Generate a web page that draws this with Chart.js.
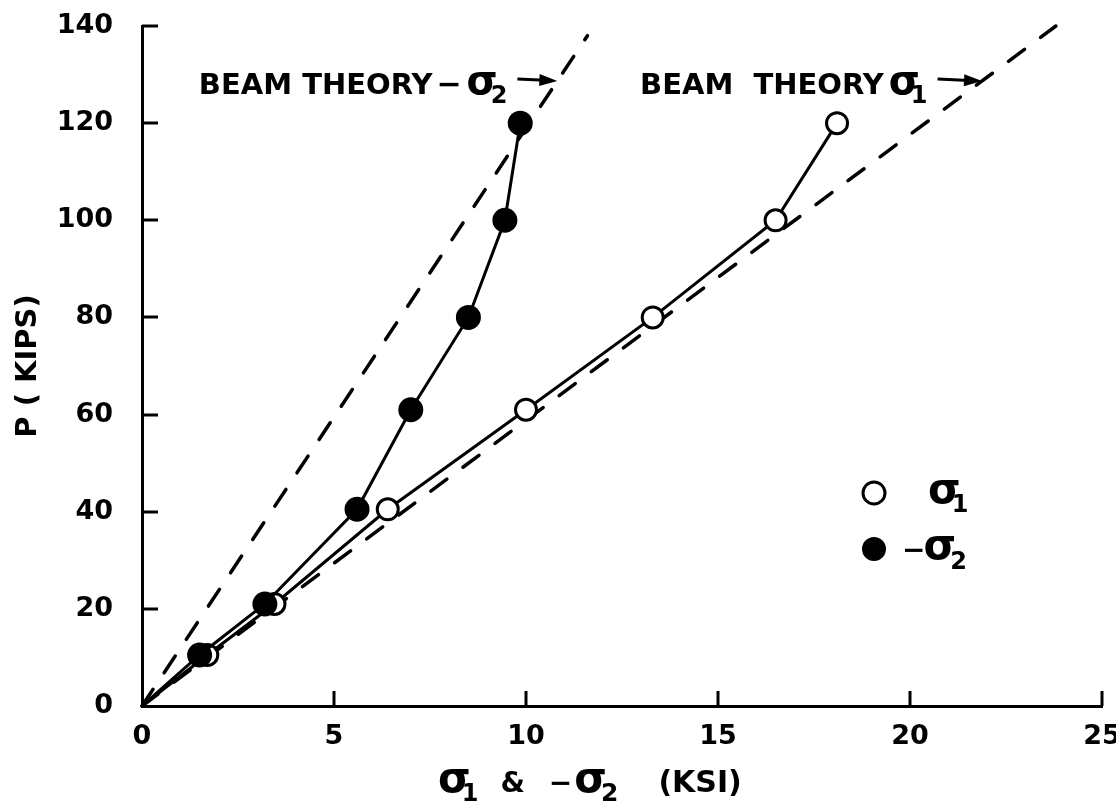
<!DOCTYPE html>
<html>
<head>
<meta charset="utf-8">
<title>Load vs principal stress</title>
<script src="https://cdn.jsdelivr.net/npm/chart.js@4.4.1/dist/chart.umd.min.js"></script>
<style>
  html, body { margin: 0; padding: 0; background: #fff; }
  #wrap { width: 1116px; height: 803px; }
</style>
</head>
<body>
<div id="wrap"><canvas id="chart" width="1116" height="803"></canvas></div>
<script>
// Applied load P (kips) at each reading; the first entry is the unloaded origin
const loadKips = [0, 10.5, 21, 40.5, 61, 80, 100, 120];
// Measured principal stresses (ksi) at those loads
const sigma1 = [0, 1.7, 3.45, 6.4, 10.0, 13.3, 16.5, 18.1];
const negSigma2 = [0, 1.5, 3.2, 5.6, 7.0, 8.5, 9.45, 9.85];
// Beam theory predictions: straight lines from the origin
const beamSigma1X = [0, 23.8];
const beamSigma1P = [0, 140];
const beamSigma2X = [0, 11.6];
const beamSigma2P = [0, 138];
// Axis ticks
const xTicks = [0, 5, 10, 15, 20, 25];
const yTicks = [0, 20, 40, 60, 80, 100, 120, 140];

const INK = '#000';
const FONT = '"DejaVu Sans", "Liberation Sans", sans-serif';

function pairs(xs, ys) { return xs.map((x, i) => ({ x: x, y: ys[i] })); }

// Draws a run of text pieces (sigma with subscripts), returns the end x
function drawRuns(ctx, x, y, runs) {
  let cx = x;
  for (const r of runs) {
    cx += r.dx || 0;
    ctx.font = 'bold ' + r.size + 'px ' + FONT;
    ctx.fillText(r.t, cx, y + (r.dy || 0));
    cx += ctx.measureText(r.t).width;
  }
  return cx;
}

function drawArrow(ctx, x0, y0, x1, y1) {
  const a = Math.atan2(y1 - y0, x1 - x0);
  const head = 18, half = 6;
  const c = Math.cos(a), s = Math.sin(a);
  ctx.lineWidth = 3;
  ctx.beginPath();
  ctx.moveTo(x0, y0);
  ctx.lineTo(x1 - head * 0.7 * c, y1 - head * 0.7 * s);
  ctx.stroke();
  ctx.beginPath();
  ctx.moveTo(x1, y1);
  ctx.lineTo(x1 - head * c + half * s, y1 - head * s - half * c);
  ctx.lineTo(x1 - head * c - half * s, y1 - head * s + half * c);
  ctx.closePath();
  ctx.fill();
}

// Inward tick marks on both axes
const inwardTicks = {
  id: 'inwardTicks',
  afterDraw(chart) {
    const { ctx, chartArea, scales } = chart;
    ctx.save();
    ctx.strokeStyle = INK;
    ctx.lineWidth = 3;
    scales.x.ticks.forEach(t => {
      if (t.value === 0) return;
      const px = Math.round(scales.x.getPixelForValue(t.value));
      ctx.beginPath();
      ctx.moveTo(px, chartArea.bottom);
      ctx.lineTo(px, chartArea.bottom - 15);
      ctx.stroke();
    });
    scales.y.ticks.forEach(t => {
      if (t.value === 0) return;
      const py = Math.round(scales.y.getPixelForValue(t.value));
      ctx.beginPath();
      ctx.moveTo(chartArea.left, py);
      ctx.lineTo(chartArea.left + 16, py);
      ctx.stroke();
    });
    ctx.restore();
  }
};

// Beam theory call-outs, symbol key and the stress axis title
const notes = {
  id: 'notes',
  afterDraw(chart) {
    const { ctx, scales } = chart;
    const xs = scales.x, ys = scales.y;
    ctx.save();
    ctx.fillStyle = INK;
    ctx.strokeStyle = INK;
    ctx.textAlign = 'left';
    ctx.textBaseline = 'alphabetic';

    // call-outs: text, then an arrow whose tip lands on the dashed line
    const callouts = [
      { x: 1.48, y: 126, lineX: beamSigma2X, lineP: beamSigma2P,
        runs: [{ t: 'BEAM THEORY', size: 29 }, { t: '−', size: 30, dx: 4 },
               { t: 'σ', size: 40, dx: 5 }, { t: '2', size: 24, dy: 9, dx: -7 }] },
      { x: 12.97, y: 126, lineX: beamSigma1X, lineP: beamSigma1P,
        runs: [{ t: 'BEAM  THEORY', size: 29 }, { t: 'σ', size: 40, dx: 5 },
               { t: '1', size: 24, dy: 9, dx: -9 }] }
    ];
    callouts.forEach(c => {
      const bx = xs.getPixelForValue(c.x);
      const by = ys.getPixelForValue(c.y);
      const endX = drawRuns(ctx, bx, by, c.runs);
      const ay = by - 15;
      const slope = c.lineP[1] / c.lineX[1];
      const pAtArrow = ys.getValueForPixel(ay + 2);
      const tipX = xs.getPixelForValue(pAtArrow / slope);
      drawArrow(ctx, endX + 10, ay, tipX, ay + 2);
    });

    // symbol key, styled from the measured datasets
    const key = [
      { ds: 1, textX: 928, runs: [{ t: 'σ', size: 42 }, { t: '1', size: 24, dy: 9, dx: -9 }] },
      { ds: 0, textX: 902, runs: [{ t: '−', size: 28 }, { t: 'σ', size: 42, dx: -2 }, { t: '2', size: 24, dy: 10, dx: -6 }] }
    ];
    key.forEach((k, i) => {
      const d = chart.data.datasets[k.ds];
      const cx = 874, cy = 493 + i * 56;
      ctx.beginPath();
      ctx.arc(cx, cy, 11, 0, Math.PI * 2);
      ctx.fillStyle = d.pointBackgroundColor;
      ctx.fill();
      ctx.lineWidth = d.pointBorderWidth;
      ctx.strokeStyle = d.pointBorderColor;
      ctx.stroke();
      ctx.fillStyle = INK;
      drawRuns(ctx, k.textX, cy + 10, k.runs);
    });

    // stress axis title
    const titleRuns = [
      { t: 'σ', size: 42 }, { t: '1', size: 24, dy: 9, dx: -9 },
      { t: '&', size: 28, dx: 22 },
      { t: '−', size: 28, dx: 24 }, { t: 'σ', size: 42, dx: 2 }, { t: '2', size: 25, dy: 9, dx: -6 },
      { t: '(KSI)', size: 30, dx: 40 }
    ];
    drawRuns(ctx, 438, 792, titleRuns);
    ctx.restore();
  }
};

const measuredLine = {
  showLine: true,
  borderColor: INK,
  borderWidth: 3,
  pointBorderColor: INK,
  pointHoverRadius: 11
};

const theoryLine = {
  showLine: true,
  borderColor: INK,
  borderWidth: 3.5,
  borderDash: [20, 20],
  borderCapStyle: 'round',
  pointRadius: 0,
  pointHoverRadius: 0,
  clip: false
};

new Chart(document.getElementById('chart'), {
  type: 'scatter',
  data: {
    datasets: [
      Object.assign({}, measuredLine, {
        label: '−σ2',
        data: pairs(negSigma2, loadKips),
        pointRadius: ctx => (ctx.dataIndex === 0 ? 0 : 11.5),
        pointBackgroundColor: INK,
        pointBorderWidth: 2
      }),
      Object.assign({}, measuredLine, {
        label: 'σ1',
        data: pairs(sigma1, loadKips),
        pointRadius: ctx => (ctx.dataIndex === 0 ? 0 : 10.5),
        pointBackgroundColor: '#fff',
        pointBorderWidth: 3
      }),
      Object.assign({}, theoryLine, {
        label: 'Beam theory −σ2',
        data: pairs(beamSigma2X, beamSigma2P)
      }),
      Object.assign({}, theoryLine, {
        label: 'Beam theory σ1',
        data: pairs(beamSigma1X, beamSigma1P)
      })
    ]
  },
  options: {
    responsive: false,
    animation: false,
    devicePixelRatio: 1,
    layout: { padding: { top: 26, right: 14, left: 0, bottom: 0 } },
    plugins: {
      legend: { display: false },
      tooltip: { enabled: false },
      title: { display: false }
    },
    scales: {
      x: {
        type: 'linear',
        min: 0,
        max: 25,
        afterBuildTicks: s => { s.ticks = xTicks.map(v => ({ value: v })); },
        afterFit: s => { s.height = 97; s.paddingLeft = 0; s.paddingRight = 0; },
        grid: { display: false, drawTicks: false },
        border: { display: true, color: INK, width: 3 },
        ticks: {
          color: INK,
          padding: 15,
          maxRotation: 0,
          font: { family: FONT, size: 27, weight: 'bold' }
        },
        title: { display: false }
      },
      y: {
        type: 'linear',
        min: 0,
        max: 140,
        afterBuildTicks: s => { s.ticks = yTicks.map(v => ({ value: v })); },
        afterFit: s => { s.width = 142; s.paddingTop = 0; s.paddingBottom = 0; },
        grid: { display: false, drawTicks: false },
        border: { display: true, color: INK, width: 3 },
        ticks: {
          color: INK,
          padding: 29,
          font: { family: FONT, size: 27, weight: 'bold' }
        },
        title: {
          display: true,
          text: 'P ( KIPS)',
          color: INK,
          padding: { top: 11, bottom: 0 },
          font: { family: FONT, size: 29, weight: 'bold' }
        }
      }
    }
  },
  plugins: [inwardTicks, notes]
});
</script>
</body>
</html>
